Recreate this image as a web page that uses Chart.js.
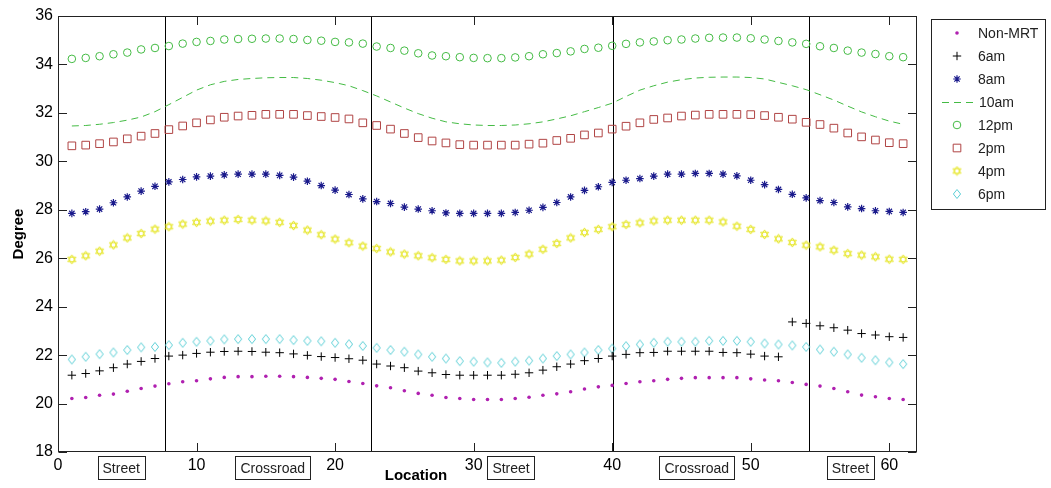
<!DOCTYPE html>
<html>
<head>
<meta charset="utf-8">
<script src="https://cdn.jsdelivr.net/npm/chart.js"></script>
<style>
  body { margin: 0; background: #fff; }
  #wrap { width: 1051px; height: 488px; }
</style>
</head>
<body>
<div id="wrap"><canvas id="myChart" width="1051" height="488"></canvas></div>
<script>
// values, location 1..61
const locations = [1,2,3,4,5,6,7,8,9,10,11,12,13,14,15,16,17,18,19,20,21,22,23,24,25,26,27,28,29,30,
  31,32,33,34,35,36,37,38,39,40,41,42,43,44,45,46,47,48,49,50,51,52,53,54,55,56,57,58,59,60,61];

const nonMrt = [20.21,20.25,20.34,20.39,20.51,20.62,20.72,20.82,20.90,20.94,21.02,21.08,21.11,21.11,21.13,21.13,21.11,21.08,21.04,21.00,
  20.91,20.83,20.73,20.65,20.53,20.42,20.34,20.25,20.21,20.17,20.17,20.17,20.21,20.26,20.34,20.40,20.49,20.60,20.69,20.75,
  20.83,20.90,20.94,21.00,21.04,21.07,21.07,21.07,21.07,21.02,20.97,20.94,20.87,20.79,20.72,20.62,20.49,20.35,20.28,20.21,20.17];

const am6 = [21.17,21.24,21.35,21.48,21.63,21.74,21.86,21.96,22.00,22.07,22.12,22.15,22.16,22.15,22.12,22.10,22.05,21.99,21.94,21.90,
  21.85,21.79,21.63,21.55,21.48,21.34,21.27,21.20,21.17,21.17,21.17,21.17,21.21,21.27,21.38,21.52,21.63,21.77,21.86,21.96,
  22.03,22.10,22.11,22.16,22.16,22.16,22.16,22.11,22.10,22.04,21.96,21.93,23.37,23.31,23.21,23.13,23.03,22.89,22.83,22.76,22.73];

const am8 = [27.85,27.92,28.03,28.29,28.53,28.77,28.97,29.15,29.25,29.36,29.39,29.44,29.47,29.47,29.47,29.42,29.35,29.18,29.00,28.81,
  28.63,28.45,28.34,28.26,28.11,28.03,27.96,27.87,27.85,27.85,27.85,27.85,27.89,27.98,28.10,28.30,28.53,28.80,28.95,29.13,
  29.22,29.29,29.39,29.47,29.47,29.50,29.50,29.47,29.40,29.22,29.04,28.84,28.64,28.49,28.38,28.30,28.12,28.05,27.96,27.93,27.89];

const am10 = [31.46,31.48,31.53,31.60,31.70,31.83,32.05,32.34,32.64,32.94,33.16,33.30,33.38,33.42,33.45,33.46,33.46,33.42,33.35,33.25,
  33.12,32.92,32.70,32.45,32.20,31.97,31.78,31.63,31.55,31.50,31.48,31.48,31.50,31.55,31.63,31.75,31.88,32.05,32.22,32.40,
  32.68,32.94,33.12,33.27,33.37,33.44,33.47,33.48,33.48,33.46,33.40,33.26,33.12,32.96,32.75,32.53,32.28,32.04,31.84,31.66,31.53];

const pm12 = [34.23,34.27,34.34,34.42,34.49,34.62,34.68,34.76,34.86,34.93,34.97,35.03,35.05,35.06,35.07,35.07,35.05,35.01,34.98,34.93,
  34.91,34.86,34.74,34.68,34.57,34.46,34.37,34.34,34.30,34.27,34.26,34.26,34.29,34.34,34.42,34.47,34.54,34.64,34.69,34.77,
  34.85,34.91,34.95,35.00,35.03,35.07,35.10,35.11,35.11,35.08,35.03,34.97,34.91,34.85,34.75,34.68,34.57,34.49,34.43,34.34,34.30];

const pm2 = [30.64,30.67,30.73,30.80,30.93,31.04,31.15,31.31,31.46,31.59,31.71,31.82,31.87,31.90,31.94,31.94,31.94,31.89,31.85,31.81,
  31.75,31.59,31.48,31.33,31.15,30.98,30.84,30.76,30.69,30.67,30.67,30.67,30.67,30.71,30.75,30.86,30.95,31.09,31.17,31.33,
  31.45,31.59,31.73,31.79,31.87,31.91,31.94,31.94,31.94,31.93,31.89,31.82,31.74,31.61,31.52,31.37,31.17,31.01,30.88,30.77,30.73];

const pm4 = [25.95,26.10,26.29,26.55,26.84,27.02,27.20,27.30,27.41,27.48,27.53,27.57,27.60,27.57,27.54,27.48,27.35,27.16,26.97,26.79,
  26.64,26.50,26.40,26.26,26.17,26.10,26.02,25.95,25.89,25.89,25.89,25.92,26.03,26.17,26.37,26.61,26.84,27.06,27.19,27.30,
  27.39,27.46,27.54,27.57,27.57,27.57,27.57,27.50,27.32,27.19,26.98,26.80,26.65,26.54,26.47,26.33,26.19,26.13,26.06,25.96,25.95];

const pm6 = [21.82,21.93,22.04,22.11,22.21,22.32,22.34,22.41,22.51,22.55,22.59,22.65,22.66,22.66,22.66,22.66,22.62,22.59,22.57,22.51,
  22.45,22.38,22.30,22.21,22.14,22.03,21.93,21.86,21.75,21.73,21.70,21.68,21.73,21.77,21.86,21.96,22.03,22.11,22.21,22.27,
  22.37,22.44,22.51,22.55,22.55,22.55,22.59,22.59,22.59,22.55,22.48,22.44,22.40,22.34,22.23,22.14,22.03,21.89,21.79,21.70,21.63];

const seriesNames = ['Non-MRT', '6am', '8am', '10am', '12pm', '2pm', '4pm', '6pm'];
const xTicks = [0, 10, 20, 30, 40, 50, 60];
const yTicks = [18, 20, 22, 24, 26, 28, 30, 32, 34, 36];
const boundaries = [7.73, 22.57, 40.03, 54.2];
const zoneNames = ['Street', 'Crossroad', 'Street', 'Crossroad', 'Street'];
const zoneCenters = [4.56, 15.5, 32.7, 46.1, 57.2];

const FONT = '"Liberation Sans", Arial, sans-serif';

// little canvases for the matlab markers chart.js doesn't have
function hexagram(color) {
  const c = document.createElement('canvas');
  c.width = 11; c.height = 11;
  const g = c.getContext('2d');
  g.strokeStyle = color;
  g.lineWidth = 1;
  for (const off of [-90, 90]) {
    g.beginPath();
    for (let k = 0; k < 3; k++) {
      const a = (off + k * 120) * Math.PI / 180;
      const px = 5.5 + 4.6 * Math.cos(a), py = 5.5 + 4.6 * Math.sin(a);
      if (k) g.lineTo(px, py); else g.moveTo(px, py);
    }
    g.closePath();
    g.stroke();
  }
  return c;
}

function diamond(color) {
  const c = document.createElement('canvas');
  c.width = 10; c.height = 12;
  const g = c.getContext('2d');
  g.strokeStyle = color;
  g.lineWidth = 1;
  g.beginPath();
  g.moveTo(5, 1.5); g.lineTo(8.6, 6); g.lineTo(5, 10.5); g.lineTo(1.4, 6);
  g.closePath();
  g.stroke();
  return c;
}

function pts(vals) {
  return locations.map((x, i) => ({ x: x, y: vals[i] }));
}

const datasets = [
  { label: seriesNames[0], data: pts(nonMrt), pointStyle: 'circle', pointRadius: 1.8, pointBorderWidth: 0,
    backgroundColor: '#b020b0', borderColor: '#b020b0' },
  { label: seriesNames[1], data: pts(am6), pointStyle: 'cross', pointRadius: 4.2, pointBorderWidth: 1,
    backgroundColor: '#000', borderColor: '#000' },
  { label: seriesNames[2], data: pts(am8), pointStyle: 'star', pointRadius: 3.8, pointBorderWidth: 1.2,
    backgroundColor: '#1a1a8c', borderColor: '#1a1a8c' },
  { label: seriesNames[3], data: pts(am10), showLine: true, pointRadius: 0, borderWidth: 1, borderDash: [7, 5],
    tension: 0, borderColor: '#44bb44', backgroundColor: '#44bb44' },
  { label: seriesNames[4], data: pts(pm12), pointStyle: 'circle', pointRadius: 3.8, pointBorderWidth: 1,
    backgroundColor: 'rgba(0,0,0,0)', borderColor: '#44bb44' },
  { label: seriesNames[5], data: pts(pm2), pointStyle: 'rect', pointRadius: 5.4, pointBorderWidth: 1,
    backgroundColor: 'rgba(0,0,0,0)', borderColor: '#b04444' },
  { label: seriesNames[6], data: pts(pm4), pointStyle: hexagram('#e6e62a'), pointRadius: 5,
    backgroundColor: '#e6e62a', borderColor: '#e6e62a' },
  { label: seriesNames[7], data: pts(pm6), pointStyle: diamond('#5ccfd6'), pointRadius: 5,
    backgroundColor: 'rgba(0,0,0,0)', borderColor: '#5ccfd6' }
];

const matlabAxes = {
  id: 'matlabAxes',
  beforeDatasetsDraw(chart) {
    const ctx = chart.ctx, a = chart.chartArea, xs = chart.scales.x;
    ctx.save();
    ctx.strokeStyle = '#000';
    ctx.lineWidth = 1;
    boundaries.forEach(b => {
      const px = Math.round(xs.getPixelForValue(b)) + 0.5;
      ctx.beginPath();
      ctx.moveTo(px, a.top);
      ctx.lineTo(px, a.bottom);
      ctx.stroke();
    });
    ctx.restore();
  },
  afterDraw(chart) {
    const ctx = chart.ctx, a = chart.chartArea;
    const xs = chart.scales.x, ys = chart.scales.y;
    const L = Math.round(a.left) + 0.5, R = Math.round(a.right) - 0.5;
    const T = Math.round(a.top) + 0.5, B = Math.round(a.bottom) - 0.5;
    const tl = 8.5;
    ctx.save();
    ctx.strokeStyle = '#222';
    ctx.lineWidth = 1;
    ctx.strokeRect(L, T, R - L, B - T);
    ctx.beginPath();
    xTicks.forEach(v => {
      const px = Math.round(xs.getPixelForValue(v)) + 0.5;
      ctx.moveTo(px, B); ctx.lineTo(px, B - tl);
      ctx.moveTo(px, T); ctx.lineTo(px, T + tl);
    });
    yTicks.forEach(v => {
      const py = Math.round(ys.getPixelForValue(v)) + 0.5;
      ctx.moveTo(L, py); ctx.lineTo(L + tl, py);
      ctx.moveTo(R, py); ctx.lineTo(R - tl, py);
    });
    ctx.stroke();

    // Street / Crossroad boxes under the axis
    ctx.font = '14px ' + FONT;
    ctx.textAlign = 'center';
    ctx.textBaseline = 'middle';
    ctx.fillStyle = '#222';
    ctx.strokeStyle = '#222';
    zoneNames.forEach((name, i) => {
      const cx = xs.getPixelForValue(zoneCenters[i]);
      const w = ctx.measureText(name).width + 10;
      ctx.strokeRect(Math.round(cx - w / 2) + 0.5, 456.5, Math.round(w), 23);
      ctx.fillText(name, cx, 469);
    });

    // axis titles
    ctx.fillStyle = '#000';
    ctx.font = 'bold 15px ' + FONT;
    ctx.fillText('Location', 416, 476);
    ctx.save();
    ctx.translate(19, (a.top + a.bottom) / 2);
    ctx.rotate(-Math.PI / 2);
    ctx.fillText('Degree', 0, 0);
    ctx.restore();

    // legend
    ctx.strokeStyle = '#222';
    ctx.strokeRect(931.5, 19.5, 114, 190);
    ctx.font = '14px ' + FONT;
    ctx.textAlign = 'left';
    chart.data.datasets.forEach((ds, i) => {
      const y = 33 + i * 23;
      ctx.save();
      if (ds.showLine) {
        ctx.strokeStyle = ds.borderColor;
        ctx.setLineDash(ds.borderDash);
        ctx.beginPath();
        ctx.moveTo(942, y + 0.5);
        ctx.lineTo(976, y + 0.5);
        ctx.stroke();
      } else {
        ctx.strokeStyle = ds.borderColor;
        ctx.fillStyle = ds.backgroundColor;
        ctx.lineWidth = ds.pointBorderWidth || 1;
        Chart.helpers.drawPoint(ctx, {
          pointStyle: ds.pointStyle, radius: ds.pointRadius,
          borderWidth: ds.pointBorderWidth || 0, rotation: 0
        }, 957, y);
      }
      ctx.restore();
      ctx.fillStyle = '#222';
      ctx.fillText(ds.label, ds.showLine ? 979 : 978, y + 1);
    });
    ctx.restore();
  }
};

new Chart(document.getElementById('myChart'), {
  type: 'scatter',
  data: { datasets: datasets },
  options: {
    responsive: false,
    animation: false,
    events: [],
    layout: { padding: { left: 0, right: 134, top: 16, bottom: 0 }, autoPadding: false },
    plugins: { legend: { display: false }, tooltip: { enabled: false } },
    scales: {
      x: {
        type: 'linear', min: 0, max: 62,
        afterFit: s => { s.height = 36; },
        afterBuildTicks: s => { s.ticks = xTicks.map(v => ({ value: v })); },
        grid: { display: false, drawTicks: false },
        border: { display: false },
        ticks: { color: '#000', padding: 4, font: { size: 16, family: FONT }, maxRotation: 0 }
      },
      y: {
        type: 'linear', min: 18, max: 36,
        afterFit: s => { s.width = 58; },
        afterBuildTicks: s => { s.ticks = yTicks.map(v => ({ value: v })); },
        grid: { display: false, drawTicks: false },
        border: { display: false },
        ticks: { color: '#000', padding: 5, font: { size: 16, family: FONT } }
      }
    }
  },
  plugins: [matlabAxes]
});
</script>
</body>
</html>
